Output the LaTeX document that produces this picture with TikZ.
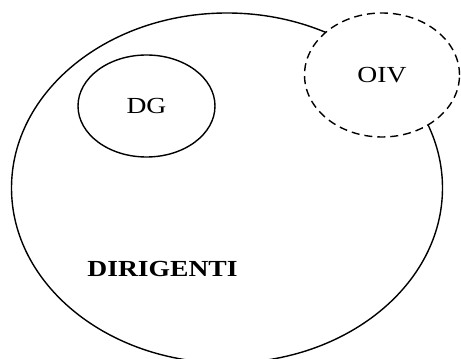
\documentclass[tikz,border=0pt]{standalone}
\usepackage{fontspec}
\setmainfont[FakeStretch=1.2]{Liberation Serif}
\usepackage{tikz}
\usetikzlibrary{shapes.geometric}

\begin{document}
\begin{tikzpicture}[x=1pt,y=1pt,
  set/.style={ellipse, draw, line width=1.4pt, inner sep=0pt},
  lbl/.style={font=\fontsize{23}{26}\selectfont}]
\clip (0,0) rectangle (461,359);
\fill[white] (0,0) rectangle (461,359);

\node[set, minimum width=431, minimum height=350] (dir) at (227,171) {};
\node[lbl, font=\fontsize{23}{26}\selectfont\bfseries] (dirtxt) at (162.5,90.5) {DIRIGENTI};

\node[set, lbl, minimum width=137, minimum height=102] (dg) at (146.5,253) {DG};

\node[set, lbl, dash pattern=on 8pt off 5pt, fill=white, minimum width=155, minimum height=124] (oiv) at (382,284) {OIV};
\end{tikzpicture}
\end{document}
